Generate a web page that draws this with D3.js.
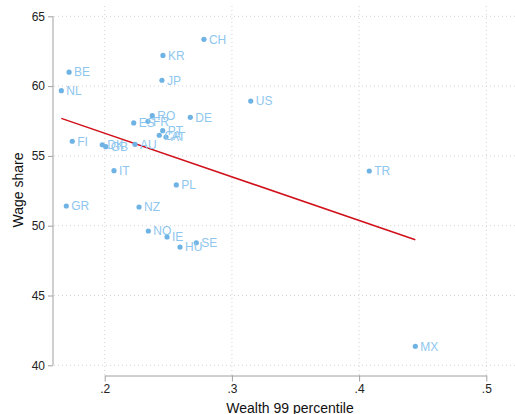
<!DOCTYPE html>
<html>
<head>
<meta charset="utf-8">
<script src="https://cdn.jsdelivr.net/npm/d3@7"></script>
<style>
  body { margin: 0; background: #fff; }
  svg { font-family: "Liberation Sans", Arial, sans-serif; display: block; }
  .grid line { stroke: #d4d4d4; stroke-dasharray: 1,3; }
  .axis path, .axis line { stroke: #a0a0a0; }
  .axis text { fill: #222; font-size: 12px; }
  .lbl { fill: #8ec6ee; font-size: 12px; }
</style>
</head>
<body>
<svg width="515" height="414"></svg>
<script>
var countries = ["CH","KR","BE","JP","NL","US","RO","DE","ES","FR","PT","CA","AT","FI","DK","GB","AU","IT","PL","GR","NZ","NO","IE","HU","SE","TR","MX"];
var wealth99 = [0.278,0.2458,0.172,0.245,0.1659,0.3148,0.2374,0.2673,0.2228,0.234,0.2456,0.2429,0.2482,0.1745,0.1981,0.2008,0.2238,0.2073,0.2563,0.1698,0.227,0.2343,0.249,0.2592,0.272,0.408,0.4442];
var wageShare = [63.35,62.2,61.0,60.42,59.67,58.93,57.88,57.76,57.36,57.48,56.81,56.48,56.35,56.05,55.8,55.66,55.83,53.94,52.92,51.41,51.34,49.62,49.19,48.47,48.78,53.92,41.36];
var xTicks = [0.2, 0.3, 0.4, 0.5];
var yTicks = [40, 45, 50, 55, 60, 65];

var data = countries.map(function(c, i) { return {c: c, x: wealth99[i], y: wageShare[i]}; });

var svg = d3.select("svg");

var x = d3.scaleLinear().domain([0.2, 0.5]).range([104.7, 486.3]);
var y = d3.scaleLinear().domain([40, 65]).range([365.3, 16.3]);

// grid
var grid = svg.append("g").attr("class", "grid");
grid.selectAll(".h").data(yTicks).enter().append("line")
  .attr("x1", 54).attr("x2", 515)
  .attr("y1", function(d) { return y(d); }).attr("y2", function(d) { return y(d); });
grid.selectAll(".v").data(xTicks).enter().append("line")
  .attr("x1", function(d) { return x(d); }).attr("x2", function(d) { return x(d); })
  .attr("y1", 6).attr("y2", 375);

// axes
svg.append("g")
  .attr("class", "axis")
  .attr("transform", "translate(53,0)")
  .call(d3.axisLeft(y).tickValues(yTicks).tickSize(5).tickPadding(3).tickSizeOuter(0))
  .call(function(g) { g.select(".domain").attr("d", "M0," + y(65) + "V" + y(40)); });

svg.append("g")
  .attr("class", "axis")
  .attr("transform", "translate(0,375.5)")
  .call(d3.axisBottom(x).tickValues(xTicks).tickSize(6).tickPadding(3).tickSizeOuter(0)
    .tickFormat(function(d) { return d3.format(".1f")(d).replace(/^0/, ""); }));

// least squares fit
var mx = d3.mean(wealth99), my = d3.mean(wageShare);
var sxy = d3.sum(data, function(d) { return (d.x - mx) * (d.y - my); });
var sxx = d3.sum(data, function(d) { return (d.x - mx) * (d.x - mx); });
var b = sxy / sxx, a = my - b * mx;
var ext = d3.extent(wealth99);
svg.append("path")
  .datum(ext.map(function(v) { return [v, a + b * v]; }))
  .attr("fill", "none").attr("stroke", "#d0101a").attr("stroke-width", 1.5)
  .attr("d", d3.line().x(function(d) { return x(d[0]); }).y(function(d) { return y(d[1]); }));

// points
svg.selectAll(".dot").data(data).enter().append("circle")
  .attr("cx", function(d) { return x(d.x); })
  .attr("cy", function(d) { return y(d.y); })
  .attr("r", 2.6)
  .attr("fill", "#6fb3e4");

svg.selectAll(".lbl").data(data).enter().append("text")
  .attr("class", "lbl")
  .attr("x", function(d) { return x(d.x) + 5; })
  .attr("y", function(d) { return y(d.y); })
  .attr("dy", "0.36em")
  .text(function(d) { return d.c; });

// titles
svg.append("text")
  .attr("transform", "translate(23,190) rotate(-90)")
  .attr("text-anchor", "middle")
  .attr("font-size", 14).attr("fill", "#111")
  .text("Wage share");

svg.append("text")
  .attr("x", 290).attr("y", 413)
  .attr("text-anchor", "middle")
  .attr("font-size", 14).attr("fill", "#111")
  .text("Wealth 99 percentile");
</script>
</body>
</html>
